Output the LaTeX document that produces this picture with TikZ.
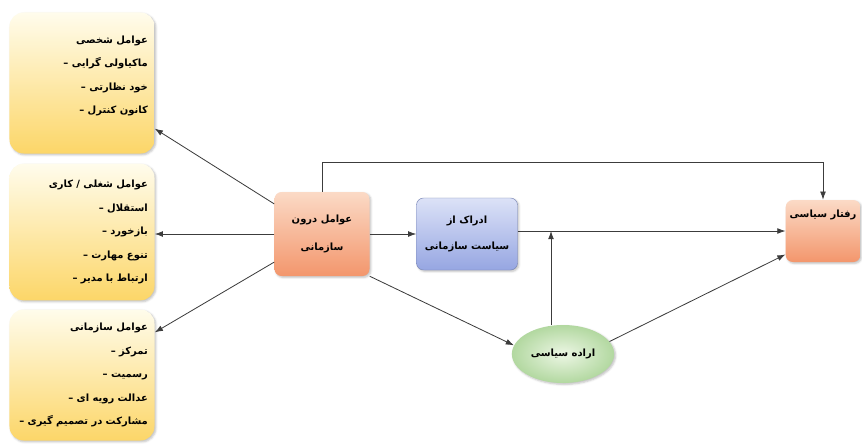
\documentclass[tikz,border=0pt]{standalone}
\usepackage{fontspec}
\newfontfamily\arabicfont[Script=Arabic]{DejaVu Sans}
\TeXXeTstate=1
\usetikzlibrary{shapes,arrows,arrows.meta,positioning,calc,shadows.blur}
\definecolor{sandtop}{RGB}{255,252,236}
\definecolor{sandbottom}{RGB}{252,214,104}
\definecolor{peachtop}{RGB}{251,218,198}
\definecolor{peachbottom}{RGB}{243,150,108}
\definecolor{skytop}{RGB}{220,226,247}
\definecolor{skybottom}{RGB}{150,166,226}
\definecolor{leafin}{RGB}{236,246,228}
\definecolor{leafout}{RGB}{178,216,160}
\definecolor{linegray}{RGB}{60,60,60}
\newcommand{\fa}[1]{\beginR #1\endR}

\begin{document}
\begin{tikzpicture}[x=0.03cm,y=-0.03cm,
    softshadow/.style={blur shadow={shadow blur steps=4, shadow xshift=1.2pt, shadow yshift=-1.2pt, shadow opacity=25}},
    factorbox/.style={rounded corners=12pt, top color=sandtop, bottom color=sandbottom, softshadow,
        text width=3.95cm, inner xsep=0.2cm, align=right, font=\arabicfont\bfseries\fontsize{8.5}{20}\selectfont},
    peachbox/.style={rounded corners=6pt, top color=peachtop, bottom color=peachbottom, softshadow,
        align=center, font=\arabicfont\bfseries\fontsize{8.5}{24}\selectfont},
    skybox/.style={rounded corners=6pt, top color=skytop, bottom color=skybottom, draw=skybottom!80!black, softshadow,
        align=center, font=\arabicfont\bfseries\fontsize{8.5}{22}\selectfont},
    link/.style={-{Latex[length=7pt,width=5pt]}, draw=linegray, line width=0.7pt}]
  \useasboundingbox (0,0) rectangle (862,446);

  % factor boxes on the left
  \node[factorbox, minimum height=4.23cm] (personal) at (82,83) {
      \fa{عوامل شخصی}\\
      \fa{ماکیاولی گرایی –}\\
      \fa{خود نظارتی –}\\
      \fa{کانون کنترل –}\\[-6pt]\mbox{}};
  \node[factorbox, minimum height=4.1cm] (job) at (82,232) {
      \fa{عوامل شغلی / کاری}\\
      \fa{استقلال –}\\
      \fa{بازخورد –}\\
      \fa{تنوع مهارت –}\\
      \fa{ارتباط با مدیر –}};
  \node[factorbox, minimum height=3.93cm] (org) at (82,375) {
      \fa{عوامل سازمانی}\\
      \fa{تمرکز –}\\
      \fa{رسمیت –}\\
      \fa{عدالت رویه ای –}\\
      \fa{مشارکت در تصمیم گیری –}};

  % main chain
  \node[peachbox, minimum width=2.85cm, minimum height=2.52cm] (inner) at (322,234) {
      \fa{عوامل درون}\\\fa{سازمانی}};
  \node[skybox, minimum width=3.03cm, minimum height=2.16cm] (percep) at (467,234) {
      \fa{ادراک از}\\\fa{سیاست سازمانی}};
  \node[ellipse, inner color=leafin, outer color=leafout, softshadow,
      minimum width=2.8cm, minimum height=1.74cm, font=\arabicfont\bfseries\fontsize{8.5}{10}\selectfont] (will) at (563,354) {\fa{اراده سیاسی}};
  \node[peachbox, minimum width=2.0cm, minimum height=1.86cm, text depth=1.05cm] (behav) at (823,231) {\fa{رفتار سیاسی}};
  \coordinate (moder) at ($(will.north |- behav.west)+(-12,0)$);

  % connectors
  \draw[link] (inner) -- (personal);
  \draw[link] (inner.west) -- (inner.west -| job.east);
  \draw[link] (inner) -- (org);
  \draw[link] (inner.east) -- (inner.east -| percep.west);
  \draw[link] (inner.north) -- ++(0,-29) -| (behav.north);
  \draw[link] (percep.east |- behav.west) -- (behav.west);
  \draw[link] (inner.south east) -- (will.170);
  \draw[link] (will.north -| moder) -- (moder);
  \draw[link] (will.15) -- (behav.212);
\end{tikzpicture}
\end{document}
